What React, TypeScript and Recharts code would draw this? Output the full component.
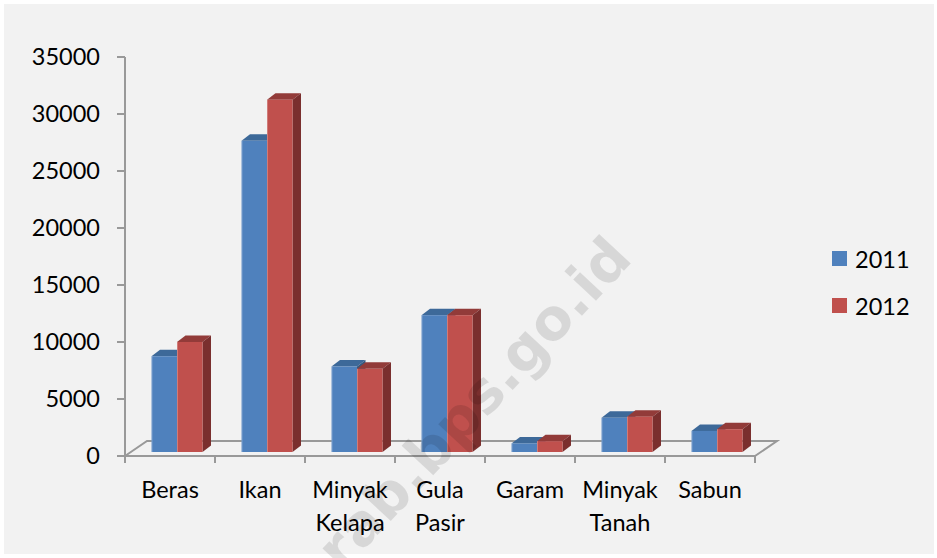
import React from "react";
import { BarChart, Bar, XAxis, YAxis, Legend } from "recharts";

const CATEGORIES = ["Beras", "Ikan", "Minyak Kelapa", "Gula Pasir", "Garam", "Minyak Tanah", "Sabun"];
const SERIES = ["2011", "2012"];
const VALUES_2011 = [8400, 27300, 7500, 12000, 750, 3000, 1850];
const VALUES_2012 = [9650, 30900, 7300, 12000, 950, 3100, 2000];
const Y_TICKS = [0, 5000, 10000, 15000, 20000, 25000, 30000, 35000];
const WATERMARK = "erab.bps.go.id";

const FRONT = ["#4F81BD", "#C0504D"];
const TOP = ["#3D6999", "#923B39"];
const SIDE = ["#35597F", "#7A2F2E"];

const data = CATEGORIES.map((name, i) => ({ name, s2011: VALUES_2011[i], s2012: VALUES_2012[i] }));

const W = 937;
const H = 558;
const PLOT_LEFT = 125;
const PLOT_RIGHT = 755;
const PLOT_TOP = 57;
const PLOT_BOTTOM = 456;
const BAND = (PLOT_RIGHT - PLOT_LEFT) / CATEGORIES.length;
const FONT = "Lato, 'Open Sans', sans-serif";
const GRAY = "#999999";

// oblique 3D parameters
const SHIFT_X = 6.5;
const SHIFT_Y = -4;
const DX = 8.5;
const DY = 6.5;
const FLOOR_DX = 22;
const FLOOR_DY = 15;

const make3D = (idx: number) => (props: any) => {
  const { x, y, width, height } = props;
  if (height == null || height <= 0) return <g />;
  const fx = x + SHIFT_X;
  const fy = y + SHIFT_Y;
  const w = width;
  return (
    <g>
      <polygon
        points={`${fx},${fy} ${fx + DX},${fy - DY} ${fx + w + DX},${fy - DY} ${fx + w},${fy}`}
        fill={TOP[idx]}
      />
      <polygon
        points={`${fx + w},${fy} ${fx + w + DX},${fy - DY} ${fx + w + DX},${fy + height - DY} ${fx + w},${fy + height}`}
        fill={SIDE[idx]}
      />
      <rect x={fx} y={fy} width={w} height={height} fill={FRONT[idx]} />
      <line x1={fx + 0.5} y1={fy} x2={fx + 0.5} y2={fy + height} stroke="rgba(255,255,255,0.25)" strokeWidth={1} />
    </g>
  );
};

const XTick = (props: any) => {
  const { x, y, payload, index } = props;
  const lines = String(payload.value).split(" ");
  return (
    <g>
      <line x1={x - BAND / 2} y1={PLOT_BOTTOM} x2={x - BAND / 2} y2={PLOT_BOTTOM + 7} stroke={GRAY} strokeWidth={2} />
      {index === CATEGORIES.length - 1 && (
        <line x1={x + BAND / 2} y1={PLOT_BOTTOM} x2={x + BAND / 2} y2={PLOT_BOTTOM + 7} stroke={GRAY} strokeWidth={2} />
      )}
      {lines.map((l, i) => (
        <text key={i} x={x} y={y + 34 + i * 33} textAnchor="middle" fill="#000" fontSize={23.5} fontFamily={FONT}>
          {l}
        </text>
      ))}
    </g>
  );
};

const LegendContent = () => (
  <div style={{ fontFamily: FONT, fontSize: 23.5, color: "#000" }}>
    {SERIES.map((s, i) => (
      <div key={s} style={{ display: "flex", alignItems: "center", height: 47 }}>
        <span style={{ display: "inline-block", width: 15, height: 15, background: FRONT[i], marginRight: 8 }} />
        <span>{s}</span>
      </div>
    ))}
  </div>
);

export default function App() {
  return (
    <div style={{ position: "absolute", left: 0, top: 0, width: W, height: H, background: "#ffffff", overflow: "hidden" }}>
      <div style={{ position: "absolute", left: 4, top: 4, width: 930, height: 550, background: "#f2f2f2" }} />
      <svg style={{ position: "absolute", left: 0, top: 0 }} width={W} height={H}>
        <polyline
          points={`${PLOT_LEFT},${PLOT_BOTTOM} ${PLOT_LEFT + FLOOR_DX},${PLOT_BOTTOM - FLOOR_DY} ${PLOT_RIGHT + FLOOR_DX},${PLOT_BOTTOM - FLOOR_DY} ${PLOT_RIGHT},${PLOT_BOTTOM}`}
          fill="none"
          stroke={GRAY}
          strokeWidth={2}
        />
      </svg>
      <div style={{ position: "absolute", left: 0, top: 0 }}>
        <BarChart
          width={W}
          height={H}
          data={data}
          margin={{ top: PLOT_TOP, right: W - PLOT_RIGHT, bottom: H - PLOT_BOTTOM - 60, left: 0 }}
          barSize={25.5}
          barGap={0}
        >
          <YAxis
            width={PLOT_LEFT}
            domain={[0, 35000]}
            ticks={Y_TICKS}
            interval={0}
            tickSize={8}
            tickMargin={17}
            axisLine={{ stroke: GRAY, strokeWidth: 2 }}
            tickLine={{ stroke: GRAY, strokeWidth: 2 }}
            tick={{ fill: "#000", fontSize: 23.5, fontFamily: FONT }}
          />
          <XAxis
            dataKey="name"
            height={60}
            interval={0}
            tickLine={false}
            axisLine={{ stroke: GRAY, strokeWidth: 2 }}
            tick={<XTick />}
          />
          <Legend
            layout="vertical"
            align="center"
            verticalAlign="middle"
            content={<LegendContent />}
            wrapperStyle={{ position: "absolute", left: 832, top: 235, width: 100 }}
          />
          <Bar dataKey="s2011" name={SERIES[0]} fill={FRONT[0]} shape={make3D(0)} isAnimationActive={false} />
          <Bar dataKey="s2012" name={SERIES[1]} fill={FRONT[1]} shape={make3D(1)} isAnimationActive={false} />
        </BarChart>
      </div>
      <svg style={{ position: "absolute", left: 0, top: 0, pointerEvents: "none" }} width={W} height={H}>
        <text
          x={634}
          y={260}
          textAnchor="end"
          transform="rotate(-47 634 260)"
          fontFamily="'DejaVu Sans', sans-serif"
          fontWeight="bold"
          fontSize={57}
          fill="rgba(0,0,0,0.11)"
        >
          {WATERMARK}
        </text>
      </svg>
    </div>
  );
}
